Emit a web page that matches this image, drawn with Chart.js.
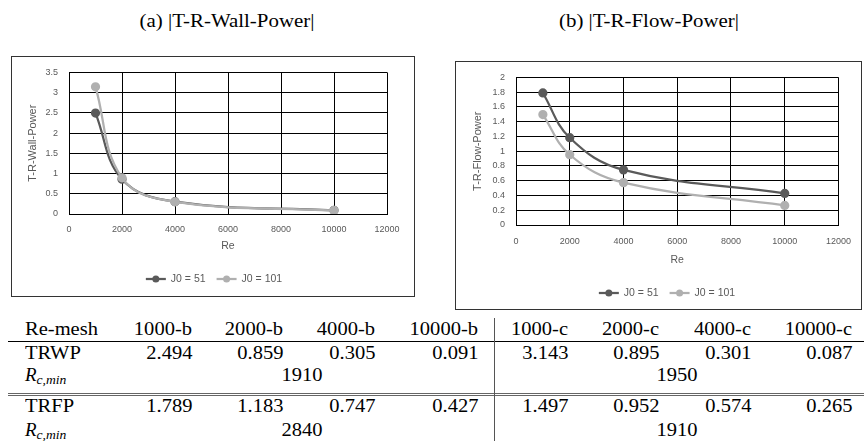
<!DOCTYPE html>
<html lang="en">
<head>
<meta charset="UTF-8">
<title>T-R-Wall-Power / T-R-Flow-Power</title>
<script src="https://cdn.jsdelivr.net/npm/chart.js"></script>
<style>
  body { margin: 0; width: 864px; height: 441px; position: relative; overflow: hidden; background: #fff;
         font-family: "Liberation Serif", "Times New Roman", serif; }
  .frame { position: absolute; outline: 1px solid #333; outline-offset: -1px; }
  .frame canvas { position: absolute; left: 0; top: 0; }
  .txt { position: absolute; white-space: nowrap; line-height: 1; color: #000; font-size: 18px; }
  .rule { position: absolute; }
</style>
</head>
<body>
<div class="frame" id="frameA" style="left:11px; top:56px; width:404px; height:241px;">
  <canvas id="wallChart" width="404" height="241"></canvas>
</div>
<div class="frame" id="frameB" style="left:455px; top:61px; width:407px; height:249px;">
  <canvas id="flowChart" width="407" height="249"></canvas>
</div>
<script>
const reValues = [1000, 2000, 4000, 10000];
const seriesLabels = ["J0 = 51", "J0 = 101"];
const wallJ51 = [2.494, 0.859, 0.305, 0.091];
const wallJ101 = [3.143, 0.895, 0.301, 0.087];
const flowJ51 = [1.789, 1.183, 0.747, 0.427];
const flowJ101 = [1.497, 0.952, 0.574, 0.265];
const meshHeaders = ["1000-b", "2000-b", "4000-b", "10000-b", "1000-c", "2000-c", "4000-c", "10000-c"];
const rcMinWall = [1910, 1950];
const rcMinFlow = [2840, 1910];
const captions = ["(a) |T-R-Wall-Power|", "(b) |T-R-Flow-Power|"];

const darkGrey = "#5a5a5a";
const lightGrey = "#b0b0b0";
const tickGrey = "#595959";

// legend drawn as line + marker, like the spreadsheet one
const lineLegend = {
  id: "lineLegend",
  afterDraw(chart, args, opts) {
    const ctx = chart.ctx;
    ctx.save();
    ctx.font = '10.5px "Liberation Sans", Arial, sans-serif';
    const seg = 20, gap = 5, space = 11;
    const items = chart.data.datasets.map(ds => ({ text: ds.label, color: ds.borderColor }));
    let total = 0;
    items.forEach(it => { it.w = seg + gap + ctx.measureText(it.text).width; total += it.w; });
    total += space * (items.length - 1);
    let x = opts.centerX - total / 2;
    const y = opts.y;
    items.forEach(it => {
      ctx.strokeStyle = it.color;
      ctx.lineWidth = 2.25;
      ctx.beginPath(); ctx.moveTo(x, y); ctx.lineTo(x + seg, y); ctx.stroke();
      ctx.fillStyle = it.color;
      ctx.beginPath(); ctx.arc(x + seg / 2, y, 3.5, 0, Math.PI * 2); ctx.fill();
      ctx.fillStyle = tickGrey;
      ctx.textAlign = "left"; ctx.textBaseline = "middle";
      ctx.fillText(it.text, x + seg + gap, y);
      x += it.w + space;
    });
    ctx.restore();
  }
};

function makeChart(id, j51, j101, cfg) {
  const toPts = arr => reValues.map((re, i) => ({ x: re, y: arr[i] }));
  const ds = (label, data, color, order) => ({
    label, data: toPts(data), borderColor: color, backgroundColor: color,
    borderWidth: 2.25, pointRadius: 3.5, pointHoverRadius: 3.5, tension: 0.4, order
  });
  return new Chart(document.getElementById(id), {
    type: "line",
    data: { datasets: [ds(seriesLabels[0], j51, darkGrey, 1), ds(seriesLabels[1], j101, lightGrey, 0)] },
    plugins: [lineLegend],
    options: {
      responsive: false,
      animation: false,
      layout: { padding: cfg.padding },
      plugins: {
        legend: { display: false },
        tooltip: { enabled: false },
        lineLegend: cfg.legend
      },
      scales: {
        x: {
          type: "linear", min: 0, max: 12000,
          ticks: { stepSize: 2000, padding: cfg.xTickPad, color: tickGrey,
                   font: { family: "Liberation Sans", size: 9 }, callback: v => String(v) },
          grid: { color: "#000", lineWidth: 1, drawTicks: false },
          border: { color: "#000", width: 1 },
          title: { display: true, text: "Re", color: tickGrey, padding: { top: 0, bottom: cfg.xTitlePad },
                   font: { family: "Liberation Sans", size: 10.5 } },
          afterFit: s => { s.height = cfg.xHeight; }
        },
        y: {
          min: 0, max: cfg.yMax,
          ticks: { stepSize: cfg.yStep, padding: 11, color: tickGrey,
                   font: { family: "Liberation Sans", size: 9 }, callback: v => String(+v.toFixed(1)) },
          grid: { color: "#000", lineWidth: 1, drawTicks: false },
          border: { color: "#000", width: 1 },
          title: { display: true, text: cfg.yTitle, color: tickGrey, padding: { top: cfg.yTitlePad, bottom: 0 },
                   font: { family: "Liberation Sans", size: 11 } },
          afterFit: s => { s.width = cfg.yWidth; }
        }
      }
    }
  });
}

makeChart("wallChart", wallJ51, wallJ101, {
  padding: { left: 0, top: 15, right: 28, bottom: 43 },
  xHeight: 40, xTickPad: 10, xTitlePad: 2,
  yWidth: 58, yMax: 3.5, yStep: 0.5, yTitle: "T-R-Wall-Power", yTitlePad: 15,
  legend: { centerX: 203, y: 223 }
});

makeChart("flowChart", flowJ51, flowJ101, {
  padding: { left: 0, top: 14, right: 15, bottom: 43 },
  xHeight: 42, xTickPad: 11, xTitlePad: 1,
  yWidth: 61, yMax: 2, yStep: 0.2, yTitle: "T-R-Flow-Power", yTitlePad: 16,
  legend: { centerX: 212, y: 232 }
});

// --- captions and table below the charts ---
const body = document.body;
function addText(html, x, yc, align, size, sx) {
  const el = document.createElement("span");
  el.className = "txt";
  el.innerHTML = html;
  el.style.fontSize = size + "px";
  el.style.top = (yc - size * 0.5) + "px";
  if (align === "right") {
    el.style.right = (864 - x) + "px";
    el.style.transformOrigin = "right center";
    el.style.transform = "scaleX(" + sx + ")";
  } else if (align === "center") {
    el.style.left = x + "px";
    el.style.transformOrigin = "left center";
    el.style.transform = "scaleX(" + sx + ") translateX(-50%)";
  } else {
    el.style.left = x + "px";
    el.style.transformOrigin = "left center";
    el.style.transform = "scaleX(" + sx + ")";
  }
  body.appendChild(el);
}
function addRule(x, y, w, h, color) {
  const el = document.createElement("div");
  el.className = "rule";
  Object.assign(el.style, { left: x + "px", top: y + "px", width: w + "px", height: h + "px", background: color });
  body.appendChild(el);
}

addText(captions[0], 227, 20, "center", 19, 1.1);
addText(captions[1], 649, 20, "center", 19, 1.1);

const colRight = [192, 283, 375, 478, 568, 659, 751, 852];
const rowY = [329, 353, 375, 406, 430];
const mergedX = [302, 677];
const rcLabel = '<i>R</i><sub style="font-size:0.72em; vertical-align:-0.25em"><i>c,min</i></sub>';
const sx = 1.14;

addText("Re-mesh", 25, rowY[0], "left", 18, sx);
meshHeaders.forEach((h, i) => addText(h, colRight[i], rowY[0], "right", 18, sx));

addText("TRWP", 25, rowY[1], "left", 18, sx);
wallJ51.concat(wallJ101).forEach((v, i) => addText(v.toFixed(3), colRight[i], rowY[1], "right", 18, sx));
addText(rcLabel, 25, rowY[2], "left", 18, 1.05);
rcMinWall.forEach((v, i) => addText(String(v), mergedX[i], rowY[2], "center", 18, sx));

addText("TRFP", 25, rowY[3], "left", 18, sx);
flowJ51.concat(flowJ101).forEach((v, i) => addText(v.toFixed(3), colRight[i], rowY[3], "right", 18, sx));
addText(rcLabel, 25, rowY[4], "left", 18, 1.05);
rcMinFlow.forEach((v, i) => addText(String(v), mergedX[i], rowY[4], "center", 18, sx));

addRule(8, 341, 856, 1, "#000");
addRule(8, 393, 856, 1, "#666");
addRule(8, 395, 856, 1, "#666");
addRule(494, 318, 1, 123, "#555");
</script>
</body>
</html>
